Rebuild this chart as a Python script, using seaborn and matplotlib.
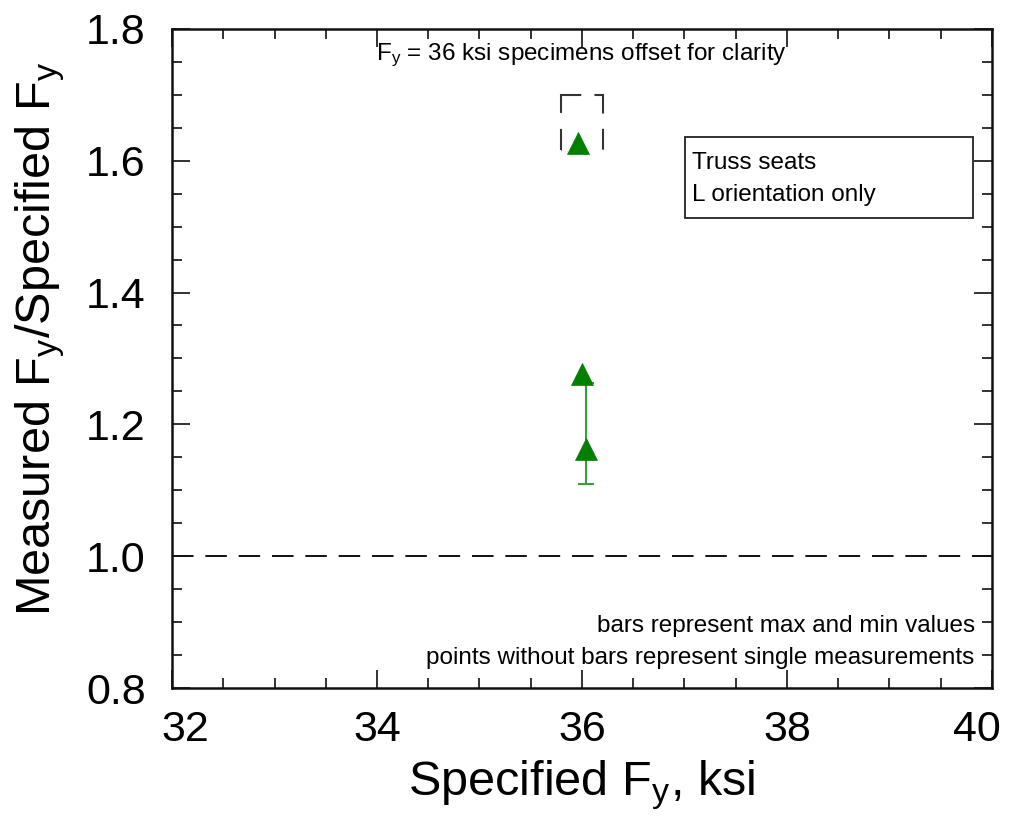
import numpy as np
import pandas as pd
import matplotlib
matplotlib.use('Agg')
import matplotlib.pyplot as plt
import matplotlib.transforms as mtransforms
import seaborn as sns
from matplotlib.patches import Rectangle
from matplotlib.ticker import MultipleLocator, FormatStrFormatter

# Data (truss seats, L orientation)
spec_fy = [35.96, 36.0, 36.04]
ratio = [1.627, 1.276, 1.163]
ratio_max = [np.nan, np.nan, 1.263]
ratio_min = [np.nan, np.nan, 1.11]

df = pd.DataFrame({'spec_fy': spec_fy, 'ratio': ratio,
                   'rmax': ratio_max, 'rmin': ratio_min})

sns.set_style('ticks')
plt.rcParams['font.family'] = ['Liberation Sans', 'DejaVu Sans']
plt.rcParams['mathtext.fontset'] = 'custom'
plt.rcParams['mathtext.rm'] = 'Liberation Sans'
plt.rcParams['mathtext.it'] = 'Liberation Sans'
plt.rcParams['lines.scale_dashes'] = False
plt.rcParams['text.color'] = 'black'
plt.rcParams['axes.labelcolor'] = 'black'
plt.rcParams['xtick.color'] = 'black'
plt.rcParams['ytick.color'] = 'black'

fig = plt.figure(figsize=(10.09, 8.24), dpi=100)
ax = fig.add_axes([0.1705, 0.165, 0.8125, 0.8])

green = '#007f00'

# error bar (max/min) for the averaged point
bars = df.dropna()
ax.errorbar(bars['spec_fy'], bars['ratio'],
            yerr=[bars['ratio'] - bars['rmin'], bars['rmax'] - bars['ratio']],
            fmt='none', ecolor='#3c9c3c', elinewidth=1.5, capsize=6, capthick=1.5, zorder=2)

sns.scatterplot(data=df, x='spec_fy', y='ratio', marker='^', s=250,
                color=green, edgecolor=green, linewidth=0.5, ax=ax, zorder=3)

# nominal line
ax.axhline(1.0, color='#111111', lw=1.4, ls=(0, (15.5, 8.5)))

# dashed box around offset specimen (bottom edge falls in a gap)
ax.add_patch(Rectangle((35.795, 1.616), 0.41, 0.083, fill=False, ec='#333333', lw=1.5,
                       ls=(111, (15, 11, 19.5, 9.5, 27.5, 11.5, 17.5, 30)), zorder=1))

ax.set_xlim(32, 40)
ax.set_ylim(0.8, 1.8)
ax.xaxis.set_major_locator(MultipleLocator(2))
ax.xaxis.set_minor_locator(MultipleLocator(0.5))
ax.yaxis.set_major_locator(MultipleLocator(0.2))
ax.yaxis.set_minor_locator(MultipleLocator(0.05))
ax.yaxis.set_major_formatter(FormatStrFormatter('%.1f'))
ax.tick_params(which='both', direction='in', top=True, right=True, width=1.3, color='#222222')
ax.tick_params(which='major', length=13, labelsize=31)
ax.tick_params(which='minor', length=7)
ax.tick_params(axis='y', which='major', pad=19)
ax.tick_params(axis='x', which='major', pad=16)
for sp in ax.spines.values():
    sp.set_linewidth(1.8)
    sp.set_color('#111111')

ax.set_xlabel('Specified F$_y$, ksi', fontsize=35, labelpad=6)
ax.set_ylabel('Measured F$_y$/Specified F$_y$', fontsize=35)
ax.yaxis.set_label_coords(-0.128, 0.53)

ax.text(0.499, 0.9605, 'F$_y$ = 36 ksi specimens offset for clarity', transform=ax.transAxes,
        ha='center', va='center', fontsize=17.5)

# note box
ax.add_patch(Rectangle((0.6256, 0.713), 0.3514, 0.123, transform=ax.transAxes,
                       fill=True, fc='white', ec='#222222', lw=1.3, zorder=4))
ax.text(0.634, 0.797, 'Truss seats', transform=ax.transAxes,
        ha='left', va='center', fontsize=17.5, zorder=5)
ax.text(0.634, 0.748, 'L orientation only', transform=ax.transAxes,
        ha='left', va='center', fontsize=17.5, zorder=5)

ax.text(0.979, 0.094, 'bars represent max and min values', transform=ax.transAxes,
        ha='right', va='center', fontsize=17.5)
ax.text(0.979, 0.0455, 'points without bars represent single measurements', transform=ax.transAxes,
        ha='right', va='center', fontsize=17.5)

# end x tick labels are nudged inward, as in the original figure
fig.canvas.draw()
for tick in ax.xaxis.get_major_ticks():
    loc = tick.get_loc()
    dx = 0
    if np.isclose(loc, 32):
        dx = 13
    elif np.isclose(loc, 40):
        dx = -15
    if dx:
        off = mtransforms.ScaledTranslation(dx / 100, 0, fig.dpi_scale_trans)
        tick.label1.set_transform(tick.label1.get_transform() + off)

fig.savefig('out.png', dpi=100)
